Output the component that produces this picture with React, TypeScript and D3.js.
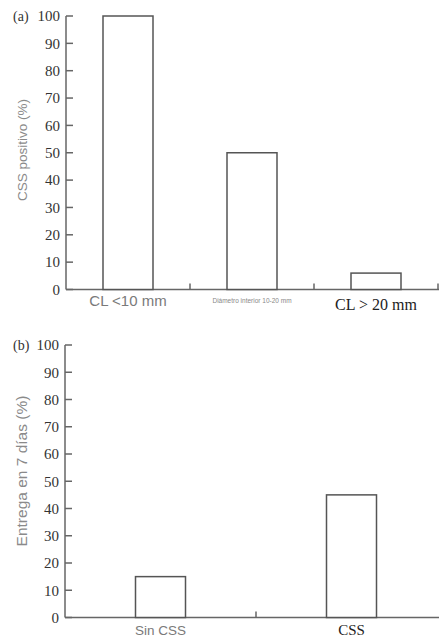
import React from 'react';
import * as d3 from 'd3';

// panel (a): CSS positivo by diameter group
const catsA = ['CL <10 mm', 'Diámetro interior 10-20 mm', 'CL > 20 mm'];
const valsA = [100, 50, 6];

// panel (b): delivery within 7 days
const catsB = ['Sin CSS', 'CSS'];
const valsB = [15, 45];

const yTicks = [0, 10, 20, 30, 40, 50, 60, 70, 80, 90, 100];

const AXIS = '#666';
const BAR = '#555';
const SERIF = '"Liberation Serif", "DejaVu Serif", serif';
const SANS = '"Liberation Sans", Arial, sans-serif';
const BAR_W = 50;

// label styles per category (the source mixes fonts)
const labelStyle: Record<string, { font: string; size: number; fill: string; dy: number }> = {
  'CL <10 mm': { font: SANS, size: 15, fill: '#7a7a7a', dy: 16 },
  'Diámetro interior 10-20 mm': { font: SANS, size: 6.5, fill: '#888', dy: 13 },
  'CL > 20 mm': { font: SERIF, size: 16, fill: '#222', dy: 20 },
  'Sin CSS': { font: SANS, size: 13.5, fill: '#7a7a7a', dy: 17 },
  CSS: { font: SERIF, size: 15, fill: '#222', dy: 17 },
};

type PanelProps = {
  cats: string[];
  vals: number[];
  x0: number;
  x1: number;
  yTop: number;
  yBottom: number;
  tag: string;
  yLabel: string;
  yLabelSize: number;
  yLabelY: number;
};

const Panel = ({ cats, vals, x0, x1, yTop, yBottom, tag, yLabel, yLabelSize, yLabelY }: PanelProps) => {
  const x = d3.scaleBand<string>().domain(cats).range([x0, x1]).padding(0);
  const y = d3.scaleLinear().domain([0, 100]).range([yBottom, yTop]);

  return (
    <g>
      {/* y axis */}
      <line x1={x0} x2={x0} y1={y(100)} y2={y(0)} stroke={AXIS} strokeWidth={1.5} />
      {yTicks.map(t => (
        <g key={t}>
          <line x1={x0} x2={x0 + 7} y1={y(t)} y2={y(t)} stroke={AXIS} strokeWidth={1.5} />
          <text x={x0 - 6} y={y(t)} dy="0.35em" textAnchor="end" fontFamily={SERIF} fontSize={15} fill="#333">
            {t}
          </text>
        </g>
      ))}
      <text x={13} y={y(100)} dy="0.35em" fontFamily={SERIF} fontSize={14} fill="#333">{tag}</text>
      <text
        transform={`translate(22,${yLabelY}) rotate(-90)`}
        textAnchor="middle"
        dy="0.35em"
        fontFamily={SANS}
        fontSize={yLabelSize}
        fill="#8a8a8a"
      >
        {yLabel}
      </text>

      {/* x axis */}
      <line x1={x0} x2={439} y1={y(0)} y2={y(0)} stroke={AXIS} strokeWidth={1.5} />
      {cats.map(c => {
        const edge = (x(c) as number) + x.bandwidth();
        return <line key={c} x1={edge} x2={edge} y1={y(0)} y2={y(0) - 6} stroke={AXIS} strokeWidth={1.5} />;
      })}

      {/* bars */}
      {cats.map((c, i) => {
        const cx = (x(c) as number) + x.bandwidth() / 2;
        return (
          <rect
            key={c}
            x={cx - BAR_W / 2}
            y={y(vals[i])}
            width={BAR_W}
            height={y(0) - y(vals[i])}
            fill="#fff"
            stroke={BAR}
            strokeWidth={1.5}
          />
        );
      })}

      {/* category labels */}
      {cats.map(c => {
        const s = labelStyle[c];
        const cx = (x(c) as number) + x.bandwidth() / 2;
        return (
          <text key={c} x={cx} y={y(0) + s.dy} textAnchor="middle" fontFamily={s.font} fontSize={s.size} fill={s.fill}>
            {c}
          </text>
        );
      })}
    </g>
  );
};

export default function App() {
  return (
    <svg width={439} height={638} style={{ position: 'absolute', left: 0, top: 0, background: '#fff' }}>
      <Panel
        cats={catsA}
        vals={valsA}
        x0={66}
        x1={438}
        yTop={16}
        yBottom={289.5}
        tag="(a)"
        yLabel="CSS positivo (%)"
        yLabelSize={13.5}
        yLabelY={150}
      />
      <Panel
        cats={catsB}
        vals={valsB}
        x0={65}
        x1={447}
        yTop={345}
        yBottom={617.5}
        tag="(b)"
        yLabel="Entrega en 7 días (%)"
        yLabelSize={15.5}
        yLabelY={471}
      />
    </svg>
  );
}
